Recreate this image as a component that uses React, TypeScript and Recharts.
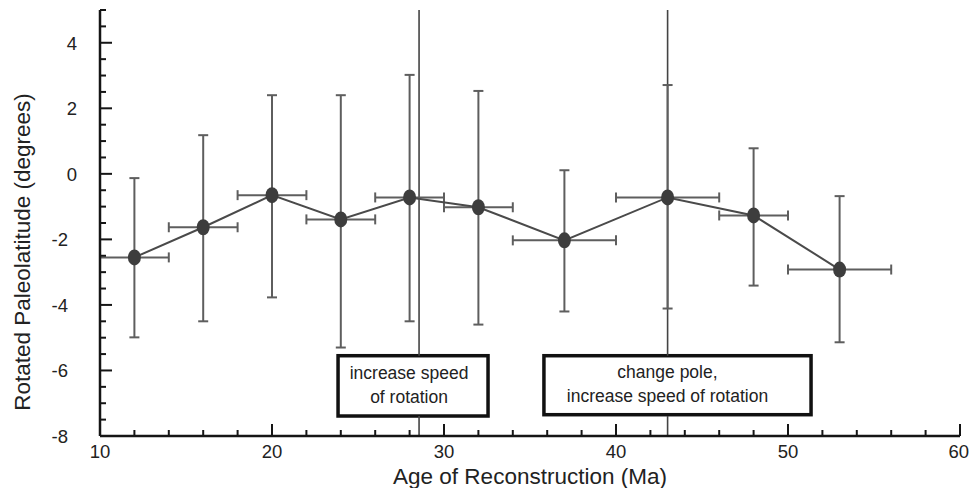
import { ScatterChart, Scatter, XAxis, YAxis, ErrorBar, ReferenceLine, ReferenceArea } from 'recharts';

// ages (Ma) and rotated paleolatitudes (deg)
const ages = [12, 16, 20, 24, 28, 32, 37, 43, 48, 53];
const lats = [-2.55, -1.63, -0.65, -1.39, -0.72, -1.02, -2.03, -0.72, -1.27, -2.92];
const latUpper = [-0.13, 1.18, 2.4, 2.4, 3.02, 2.53, 0.11, 2.71, 0.78, -0.68];
const latLower = [-4.99, -4.5, -3.77, -5.3, -4.5, -4.6, -4.2, -4.11, -3.41, -5.14];
const ageErr = [2, 2, 2, 2, 2, 2, 3, 3, 2, 3];

const xTicks = [10, 12, 14, 16, 18, 20, 22, 24, 26, 28, 30, 32, 34, 36, 38, 40, 42, 44, 46, 48, 50, 52, 54, 56, 58, 60];
const yTicks = [-8, -7.5, -7, -6.5, -6, -5.5, -5, -4.5, -4, -3.5, -3, -2.5, -2, -1.5, -1, -0.5, 0, 0.5, 1, 1.5, 2, 2.5, 3, 3.5, 4, 4.5, 5];

const eventAges = [28.55, 43];
const boxes = [
  { x1: 23.84, x2: 32.56, y1: -7.39, y2: -5.55, lines: ['increase speed', 'of rotation'], dx: -4 },
  { x1: 35.81, x2: 51.34, y1: -7.35, y2: -5.55, lines: ['change pole,', 'increase speed of rotation'], dx: -10 },
];

const data = ages.map((age, i) => ({
  age,
  lat: lats[i],
  xErr: ageErr[i],
  yErr: [lats[i] - latLower[i], latUpper[i] - lats[i]],
}));

const FONT = '"Liberation Sans", Arial, Helvetica, sans-serif';
const FRAME = '#151515';

const BottomTick = ({ x, y, payload }: any) => {
  const major = payload.value % 10 === 0;
  const last = payload.value === 60;
  return (
    <g>
      <line x1={x} y1={y} x2={x} y2={y - (major ? 12 : 6)} stroke={FRAME} strokeWidth={2} />
      {major && (
        <text
          x={last ? x + 9 : x}
          y={y + 22}
          textAnchor={last ? 'end' : 'middle'}
          fontSize={18.5}
          fill="#222"
          fontFamily={FONT}
        >
          {payload.value}
        </text>
      )}
    </g>
  );
};

const TopTick = ({ x, y, payload }: any) => {
  const major = payload.value % 10 === 0;
  return <line x1={x} y1={y} x2={x} y2={y + (major ? 12 : 6)} stroke={FRAME} strokeWidth={2} />;
};

const LeftTick = ({ x, y, payload }: any) => {
  const major = Number.isInteger(payload.value / 2);
  return (
    <g>
      <line x1={x} y1={y} x2={x + (major ? 12 : 6)} y2={y} stroke={FRAME} strokeWidth={2} />
      {major && (
        <text x={x - (payload.value < 0 ? 32 : 23)} y={y + 7} textAnchor="end" fontSize={18.5} fill="#222" fontFamily={FONT}>
          {payload.value}
        </text>
      )}
    </g>
  );
};

const RightTick = ({ x, y, payload }: any) => {
  const major = Number.isInteger(payload.value / 2);
  return <line x1={x} y1={y} x2={x - (major ? 12 : 6)} y2={y} stroke={FRAME} strokeWidth={2} />;
};

const Dot = ({ cx, cy }: any) => <ellipse cx={cx} cy={cy} rx={6.5} ry={8} fill="#3d3d3d" />;

const makeBox = (lines: string[], dx: number) => (props: any) => {
  const { x, y, width, height } = props;
  const cx = x + width / 2 + dx;
  const cy = y + height / 2;
  return (
    <g>
      <rect x={x} y={y} width={width} height={height} fill="#fff" stroke="#111" strokeWidth={3.5} />
      <text x={cx} y={cy - 7} textAnchor="middle" fontSize={17.5} fill="#222" fontFamily={FONT}>{lines[0]}</text>
      <text x={cx} y={cy + 17} textAnchor="middle" fontSize={17.5} fill="#222" fontFamily={FONT}>{lines[1]}</text>
    </g>
  );
};

const App = () => {
  return (
    <div style={{ position: 'absolute', left: 0, top: 0, width: 969, height: 488, background: '#fff' }}>
      <ScatterChart width={969} height={488} margin={{ top: 10, right: 9, bottom: 0, left: 0 }}>
        <XAxis
          type="number"
          dataKey="age"
          domain={[10, 60]}
          ticks={xTicks}
          interval={0}
          height={52}
          tickSize={0}
          tickMargin={0}
          tickLine={false}
          tick={<BottomTick />}
          axisLine={{ stroke: FRAME, strokeWidth: 2.5 }}
          label={{
            content: ({ viewBox }: any) => (
              <text x={viewBox.x + viewBox.width / 2} y={viewBox.y + 48} textAnchor="middle" fontSize={22.5} fill="#222" fontFamily={FONT}>
                Age of Reconstruction (Ma)
              </text>
            ),
          }}
        />
        <XAxis
          xAxisId="top"
          orientation="top"
          type="number"
          domain={[10, 60]}
          ticks={xTicks}
          interval={0}
          height={0}
          tickSize={0}
          tickMargin={0}
          tickLine={false}
          tick={<TopTick />}
          axisLine={{ stroke: FRAME, strokeWidth: 2.5 }}
        />
        <YAxis
          type="number"
          dataKey="lat"
          domain={[-8, 5]}
          ticks={yTicks}
          interval={0}
          width={100}
          tickSize={0}
          tickMargin={0}
          tickLine={false}
          tick={<LeftTick />}
          axisLine={{ stroke: FRAME, strokeWidth: 2.5 }}
          label={{
            content: () => (
              <text x={0} y={0} transform="translate(30, 252) rotate(-90)" textAnchor="middle" fontSize={22.5} fill="#222" fontFamily={FONT}>
                Rotated Paleolatitude (degrees)
              </text>
            ),
          }}
        />
        <YAxis
          yAxisId="right"
          orientation="right"
          type="number"
          domain={[-8, 5]}
          ticks={yTicks}
          interval={0}
          width={0}
          tickSize={0}
          tickMargin={0}
          tickLine={false}
          tick={<RightTick />}
          axisLine={{ stroke: FRAME, strokeWidth: 2.5 }}
        />
        {eventAges.map((a) => (
          <ReferenceLine
            key={`u${a}`}
            segment={[{ x: a, y: 5 }, { x: a, y: -5.55 }]}
            stroke="#444"
            strokeWidth={1.6}
          />
        ))}
        {eventAges.map((a) => (
          <ReferenceLine
            key={`d${a}`}
            segment={[{ x: a, y: -7.39 }, { x: a, y: -8 }]}
            stroke="#444"
            strokeWidth={1.6}
          />
        ))}
        <Scatter
          data={data}
          isAnimationActive={false}
          line={{ stroke: '#4a4a4a', strokeWidth: 2 }}
          shape={<Dot />}
        >
          <ErrorBar dataKey="yErr" direction="y" width={5} stroke="#5e5e5e" strokeWidth={2} />
          <ErrorBar dataKey="xErr" direction="x" width={5} stroke="#5e5e5e" strokeWidth={2} />
        </Scatter>
        {boxes.map((b, i) => (
          <ReferenceArea
            key={i}
            x1={b.x1}
            x2={b.x2}
            y1={b.y1}
            y2={b.y2}
            shape={makeBox(b.lines, b.dx)}
          />
        ))}
      </ScatterChart>
    </div>
  );
};

export default App;
